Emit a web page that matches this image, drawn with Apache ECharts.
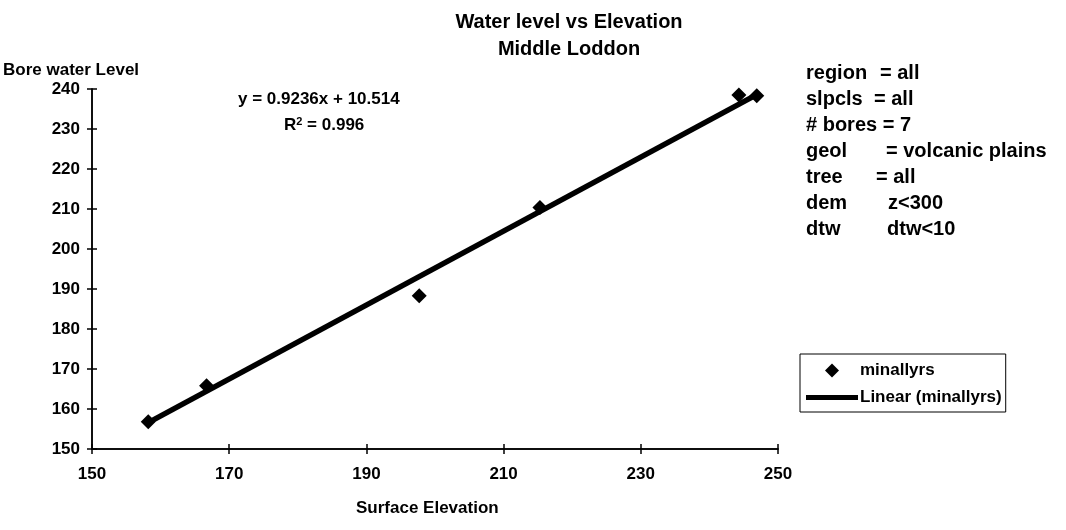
<!DOCTYPE html>
<html>
<head>
<meta charset="utf-8">
<script src="https://cdn.jsdelivr.net/npm/echarts@6/dist/echarts.min.js"></script>
<style>
html,body{margin:0;padding:0;background:#fff;}
#chart{width:1066px;height:530px;}
</style>
</head>
<body>
<div id="chart"></div>
<script>
// Data
var surfaceElevation = [158.2, 166.7, 197.7, 215.3, 244.3, 246.9];
var boreWaterLevel   = [156.8, 165.8, 188.3, 210.4, 238.5, 238.3];
var trendX = [158.2, 246.9];
var trendY = [156.6, 238.6];
var xTicks = [150, 170, 190, 210, 230, 250];
var yTicks = [150, 160, 170, 180, 190, 200, 210, 220, 230, 240];
var titleLines = ['Water level vs Elevation', 'Middle Loddon'];
var infoLabels = ['region', 'slpcls', '# bores = 7', 'geol', 'tree', 'dem', 'dtw'];
var infoValues = ['= all', '= all', '', '= volcanic plains', '= all', 'z<300', 'dtw<10'];
var equationText = 'y = 0.9236x + 10.514';
var r2Text = '0.996';
var seriesNames = ['minallyrs', 'Linear (minallyrs)'];

var FONT = 'Liberation Sans, Arial, sans-serif';
var chart = echarts.init(document.getElementById('chart'));

function pairs(a, b) { return a.map(function (v, i) { return [v, b[i]]; }); }

var axisCommon = {
  axisLine: { show: true, onZero: false, lineStyle: { color: '#000', width: 1.5 } },
  splitLine: { show: false }
};
function tick(inside) { return { show: true, inside: inside, length: 5, lineStyle: { color: '#000', width: 1.5 } }; }
var tickLabel = { color: '#000', fontFamily: FONT, fontSize: 17, fontWeight: 'bold' };

var valueX = [880, 874, 0, 886, 876, 888, 887];
var graphics = [
  { type: 'text', left: 3, top: 62,
    style: { text: 'Bore water Level', fill: '#000', font: 'bold 17px ' + FONT } },
  { type: 'text', left: 356, top: 500,
    style: { text: 'Surface Elevation', fill: '#000', font: 'bold 17px ' + FONT } },
  { type: 'text', left: 238, top: 91,
    style: { text: equationText, fill: '#000', font: 'bold 17px ' + FONT } },
  { type: 'text', left: 284, top: 116,
    style: { text: 'R{sup|2} = ' + r2Text, fill: '#000', font: 'bold 17px ' + FONT,
      rich: { sup: { fontSize: 11, fontWeight: 'bold', fontFamily: FONT, verticalAlign: 'top', padding: [0, 0, 8, 0] } } } }
];
infoLabels.forEach(function (lab, i) {
  var y = 73 + i * 26;
  graphics.push({ type: 'text', x: 806, y: y,
    style: { text: lab, fill: '#000', font: 'bold 20px ' + FONT, textVerticalAlign: 'middle' } });
  if (infoValues[i]) {
    graphics.push({ type: 'text', x: valueX[i], y: y,
      style: { text: infoValues[i], fill: '#000', font: 'bold 20px ' + FONT, textVerticalAlign: 'middle' } });
  }
});

var option = {
  backgroundColor: '#fff',
  animation: false,
  title: {
    text: titleLines.join('\n'),
    left: 564, top: 4, textAlign: 'center',
    textStyle: { fontFamily: FONT, fontSize: 20, fontWeight: 'bold', color: '#000', lineHeight: 27 }
  },
  grid: { left: 92, right: 288, top: 89, bottom: 81, containLabel: false },
  xAxis: [
    Object.assign({ type: 'value', min: 150, max: 250, interval: 20, position: 'bottom',
      axisTick: tick(false), axisLabel: Object.assign({ margin: 17 }, tickLabel) }, axisCommon),
    Object.assign({ type: 'value', min: 150, max: 250, interval: 20, position: 'bottom',
      axisTick: tick(true), axisLabel: { show: false } }, axisCommon)
  ],
  yAxis: [
    Object.assign({ type: 'value', min: 150, max: 240, interval: 10, position: 'left',
      axisTick: tick(false), axisLabel: Object.assign({ margin: 12 }, tickLabel) }, axisCommon),
    Object.assign({ type: 'value', min: 150, max: 240, interval: 10, position: 'left',
      axisTick: tick(true), axisLabel: { show: false } }, axisCommon)
  ],
  legend: {
    orient: 'vertical',
    left: 800, top: 354,
    itemWidth: 52, itemHeight: 14, itemGap: 10,
    padding: [8, 4, 6, 6],
    borderColor: '#000', borderWidth: 1,
    backgroundColor: '#fff',
    symbolKeepAspect: true,
    textStyle: { fontFamily: FONT, fontSize: 17, fontWeight: 'bold', color: '#000', padding: [0, 0, 0, -3] },
    data: [
      { name: seriesNames[0], icon: 'path://M6,0L12,6L6,12L0,6Z' },
      { name: seriesNames[1], icon: 'path://M0,0L52,0L52,5L0,5Z' }
    ]
  },
  series: [
    {
      name: seriesNames[1], type: 'line', data: pairs(trendX, trendY),
      showSymbol: false, symbol: 'none',
      lineStyle: { color: '#000', width: 5.5 }, itemStyle: { color: '#000' }, z: 2
    },
    {
      name: seriesNames[0], type: 'scatter', data: pairs(surfaceElevation, boreWaterLevel),
      symbol: 'diamond', symbolSize: 15,
      itemStyle: { color: '#000', opacity: 1 }, z: 3
    }
  ],
  graphic: graphics
};
chart.setOption(option);
</script>
</body>
</html>
